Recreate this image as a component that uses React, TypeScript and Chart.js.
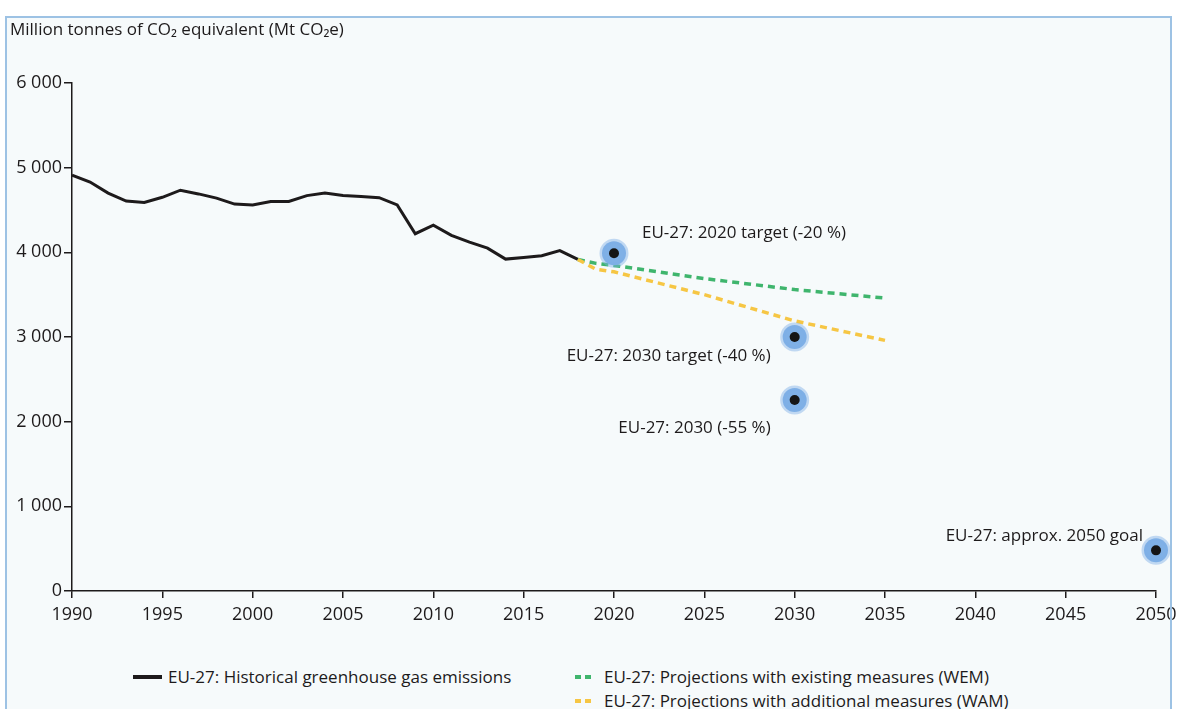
import React, { useEffect, useRef } from "react";
import { Chart, registerables } from "chart.js";

Chart.register(...registerables);

const histYears = [1990, 1991, 1992, 1993, 1994, 1995, 1996, 1997, 1998, 1999, 2000, 2001, 2002, 2003, 2004, 2005, 2006, 2007, 2008, 2009, 2010, 2011, 2012, 2013, 2014, 2015, 2016, 2017, 2018];
const histValues = [4911, 4830, 4700, 4605, 4590, 4650, 4734, 4690, 4640, 4570, 4560, 4600, 4600, 4670, 4700, 4670, 4660, 4645, 4560, 4220, 4320, 4200, 4120, 4050, 3920, 3940, 3960, 4020, 3916];

const wemYears = [2018, 2019, 2020, 2025, 2030, 2035];
const wemValues = [3916, 3870, 3845, 3690, 3560, 3460];

const wamYears = [2018, 2019, 2020, 2025, 2030, 2035];
const wamValues = [3916, 3800, 3770, 3500, 3190, 2960];

const targetYears = [2020, 2030, 2030, 2050];
const targetValues = [3990, 3000, 2255, 480];
const targetLabels = ["EU-27: 2020 target (-20 %)", "EU-27: 2030 target (-40 %)", "EU-27: 2030 (-55 %)", "EU-27: approx. 2050 goal"];

const yTicks = [0, 1000, 2000, 3000, 4000, 5000, 6000];
const yTickLabels = ["0", "1 000", "2 000", "3 000", "4 000", "5 000", "6 000"];

const legendLabels = [
  "EU-27: Historical greenhouse gas emissions",
  "EU-27: Projections with existing measures (WEM)",
  "EU-27: Projections with additional measures (WAM)",
];

const FONT = "'Open Sans', 'DejaVu Sans', sans-serif";
const TEXT = "#1d1a1b";
const GREEN = "#3fb56d";
const YELLOW = "#f6c644";
const HALO = "#7fb0e6";

// label placement (style, not data): align, dx, dy relative to the point
const labelPlacement = [
  { align: "left", dx: 28, dy: -20 },
  { align: "right", dx: -24, dy: 19 },
  { align: "right", dx: -24, dy: 28 },
  { align: "right", dx: -13, dy: -14 },
];

const W = 1177;
const CW = 1210;
const CH = 640;
const RIGHT = 1156;

export default function App() {
  const ref = useRef<HTMLCanvasElement | null>(null);

  useEffect(() => {
    document.body.style.margin = "0";
    const canvas = ref.current!;
    const labelPlugin = {
      id: "targetLabels",
      afterDatasetsDraw(chart: any) {
        const { ctx, scales } = chart;
        ctx.save();
        ctx.font = `17px ${FONT}`;
        ctx.fillStyle = TEXT;
        ctx.textBaseline = "middle";
        targetYears.forEach((yr, i) => {
          const px = scales.x.getPixelForValue(yr);
          const py = scales.y.getPixelForValue(targetValues[i]);
          const p = labelPlacement[i];
          ctx.textAlign = p.align;
          ctx.fillText(targetLabels[i], px + p.dx, py + p.dy);
        });
        ctx.restore();
      },
    };

    const chart = new Chart(canvas, {
      type: "line",
      data: {
        datasets: [
          {
            label: legendLabels[0],
            data: histYears.map((x, i) => ({ x, y: histValues[i] })),
            borderColor: TEXT,
            borderWidth: 3,
            pointRadius: 0,
            tension: 0,
            order: 3,
          },
          {
            label: legendLabels[1],
            data: wemYears.map((x, i) => ({ x, y: wemValues[i] })),
            borderColor: GREEN,
            borderWidth: 3.5,
            borderDash: [7, 5],
            pointRadius: 0,
            tension: 0,
            order: 2,
          },
          {
            label: legendLabels[2],
            data: wamYears.map((x, i) => ({ x, y: wamValues[i] })),
            borderColor: YELLOW,
            borderWidth: 3.5,
            borderDash: [7, 5],
            pointRadius: 0,
            tension: 0,
            order: 1,
          },
          {
            type: "scatter",
            label: "halo",
            data: targetYears.map((x, i) => ({ x, y: targetValues[i] })),
            backgroundColor: HALO,
            borderColor: "rgba(127,176,230,0.45)",
            borderWidth: 5,
            pointRadius: 12,
            showLine: false,
            clip: false,
            order: -1,
          } as any,
          {
            type: "scatter",
            label: "dot",
            data: targetYears.map((x, i) => ({ x, y: targetValues[i] })),
            backgroundColor: "#151515",
            borderWidth: 0,
            pointRadius: 5,
            showLine: false,
            clip: false,
            order: -2,
          } as any,
        ],
      },
      options: {
        responsive: false,
        animation: false,
        layout: { padding: { top: 83, right: CW - RIGHT, left: 0, bottom: 0 } },
        plugins: { legend: { display: false }, tooltip: { enabled: false } },
        scales: {
          x: {
            type: "linear",
            min: 1990,
            max: 2050,
            afterFit: (s: any) => {
              s.height = CH - 591;
            },
            ticks: {
              stepSize: 5,
              autoSkip: false,
              maxRotation: 0,
              padding: 6,
              color: TEXT,
              font: { family: FONT, size: 18 },
              callback: (v: any) => String(v),
            },
            grid: { drawOnChartArea: false, drawTicks: true, tickLength: 7, color: TEXT, lineWidth: 1.5 },
            border: { display: true, color: TEXT, width: 1.5 },
          },
          y: {
            type: "linear",
            min: 0,
            max: 6000,
            afterFit: (s: any) => {
              s.width = 72;
            },
            afterBuildTicks: (s: any) => {
              s.ticks = yTicks.map((v) => ({ value: v }));
            },
            ticks: {
              padding: 2,
              color: TEXT,
              font: { family: FONT, size: 18 },
              callback: (v: any) => yTickLabels[yTicks.indexOf(Number(v))] ?? String(v),
            },
            grid: { drawOnChartArea: false, drawTicks: true, tickLength: 8, color: TEXT, lineWidth: 1.5 },
            border: { display: true, color: TEXT, width: 1.5 },
          },
        },
      },
      plugins: [labelPlugin],
    } as any);
    return () => chart.destroy();
  }, []);

  const legendText: React.CSSProperties = {
    position: "absolute",
    fontFamily: FONT,
    fontSize: 17,
    color: TEXT,
    lineHeight: "20px",
    whiteSpace: "nowrap",
  };

  const dash = (color: string, left: number, top: number) => (
    <>
      <div style={{ position: "absolute", left, top, width: 6, height: 4, background: color }} />
      <div style={{ position: "absolute", left: left + 10, top, width: 6, height: 4, background: color }} />
    </>
  );

  return (
    <div style={{ position: "relative", width: W, height: 709, overflow: "hidden", background: "#ffffff" }}>
      <div
        style={{
          position: "absolute",
          left: 5,
          top: 16,
          width: 1167,
          height: 724,
          background: "#f6fafb",
        }}
      />
      <canvas ref={ref} width={CW} height={CH} style={{ position: "absolute", left: 0, top: 0 }} />
      <div style={{ ...legendText, left: 10, top: 19 }}>
        Million tonnes of CO₂ equivalent (Mt CO₂e)
      </div>
      <div style={{ position: "absolute", left: 133, top: 675, width: 29, height: 4, background: TEXT }} />
      <div style={{ ...legendText, left: 168, top: 667 }}>{legendLabels[0]}</div>
      {dash(GREEN, 575, 675)}
      <div style={{ ...legendText, left: 604, top: 667 }}>{legendLabels[1]}</div>
      {dash(YELLOW, 575, 699)}
      <div style={{ ...legendText, left: 604, top: 691 }}>{legendLabels[2]}</div>
      <div
        style={{
          position: "absolute",
          left: 5,
          top: 16,
          width: 1163,
          height: 720,
          border: "2px solid #9dc2e4",
          pointerEvents: "none",
        }}
      />
    </div>
  );
}
